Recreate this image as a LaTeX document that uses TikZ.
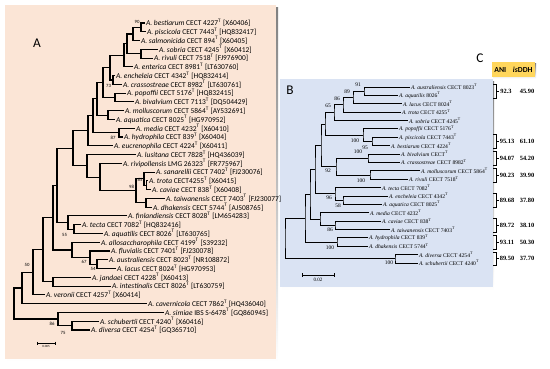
\documentclass[tikz,border=0pt]{standalone}
\usepackage{fontspec}
\setmainfont{Liberation Serif}
\newfontfamily\calib{Carlito}
\usetikzlibrary{positioning,calc}

\definecolor{peach}{RGB}{251,229,214}
\definecolor{paleblue}{RGB}{218,227,243}
\definecolor{gold}{RGB}{255,214,92}
\definecolor{shade}{RGB}{175,175,175}

\newcommand{\tsup}{\textsuperscript{T}}
\newcommand{\treeAfont}{\calib\fontsize{5.6}{6.2}\selectfont}
\newcommand{\treeBfont}{\fontsize{4.2}{4.8}\selectfont}
\newcommand{\bootAfont}{\calib\fontsize{3.6}{4}\selectfont}
\newcommand{\bootBfont}{\fontsize{4.1}{4.6}\selectfont}

\begin{document}
\begin{tikzpicture}[x=0.75pt,y=0.75pt,yscale=-1,xscale=1,
  leafA/.style={anchor=west,inner sep=0.6pt,font=\treeAfont},
  leafB/.style={anchor=west,inner sep=0.6pt,font=\treeBfont},
  bootA/.style={inner sep=0pt,font=\bootAfont},
  bootB/.style={inner sep=0pt,font=\bootBfont},
  brA/.style={line width=0.85pt},
  brB/.style={line width=0.65pt},
  panel/.style={inner sep=0pt,font=\calib\fontsize{10}{12}\selectfont},
  val/.style={inner sep=0pt,font=\bfseries\fontsize{4.8}{5.4}\selectfont},
  hdr/.style={fill=gold,minimum width=32pt,minimum height=11pt,inner sep=0pt,font=\calib\bfseries\fontsize{5.8}{6.4}\selectfont}]
\useasboundingbox (0,0) rectangle (550,368);

%Shape: Rectangle [panel A]
\fill[shade] (7,7) rectangle (278,362);
\fill[peach] (5,5) rectangle (276,359);
%Shape: Rectangle [panel B]
\fill[shade] (282,81) rectangle (494,290);
\fill[paleblue] (280,79) rectangle (493,287);

% Text Node
\node[panel] (labA) at (37,43) {A};
\node[panel] (labB) at (290,90) {B};
\node[panel] (labC) at (480,58) {C};

%%%%%%%%%% tree A
\node[leafA] (aBes) at (145,23.0) {\textit{A. bestiarum} CECT 4227\tsup{} [X60406]};
\node[leafA] (aPis) at (146,31.8) {\textit{A. piscicola} CECT 7443\tsup{} [HQ832417]};
\node[leafA] (aSal) at (140,40.5) {\textit{A. salmonicida} CECT 894\tsup{} [X60405]};
\node[leafA] (aSob) at (158,49.3) {\textit{A. sobria} CECT 4245\tsup{} [X60412]};
\node[leafA] (aRiv) at (153,58.1) {\textit{A. rivuli} CECT 7518\tsup{} [FJ976900]};
\node[leafA] (aEnt) at (133,66.9) {\textit{A. enterica} CECT 8981\tsup{} [LT630760]};
\node[leafA] (aEnc) at (115,75.6) {\textit{A. encheleia} CECT 4342\tsup{} [HQ832414]};
\node[leafA] (aCra) at (122,84.4) {\textit{A. crassostreae} CECT 8982\tsup{} [LT630761]};
\node[leafA] (aPop) at (126,93.2) {\textit{A. popoffii} CECT 5176\tsup{} [HQ832415]};
\node[leafA] (aBiv) at (134,101.9) {\textit{A. bivalvium} CECT 7113\tsup{} [DQ504429]};
\node[leafA] (aMol) at (124,110.7) {\textit{A. molluscorum} CECT 5864\tsup{} [AY532691]};
\node[leafA] (aAqu) at (115,119.5) {\textit{A. aquatica} CECT 8025\tsup{} [HG970952]};
\node[leafA] (aMed) at (135,128.2) {\textit{A. media} CECT 4232\tsup{} [X60410]};
\node[leafA] (aHyd) at (123,137.0) {\textit{A. hydrophila} CECT 839\tsup{} [X60404]};
\node[leafA] (aEuc) at (113,145.8) {\textit{A. eucrenophila} CECT 4224\tsup{} [X60411]};
\node[leafA] (aLus) at (136,154.6) {\textit{A. lusitana} CECT 7828\tsup{} [HQ436039]};
\node[leafA] (aRvp) at (122,163.3) {\textit{A. rivipollensis} LMG 26323\tsup{} [FR775967]};
\node[leafA] (aSan) at (155,172.1) {\textit{A. sanarellii} CECT 7402\tsup{} [FJ230076]};
\node[leafA] (aTro) at (148,180.9) {\textit{A. trota} CECT4255\tsup{} [X60415]};
\node[leafA] (aCav) at (151,189.6) {\textit{A. caviae} CECT 838\tsup{} [X60408]};
\node[leafA] (aTai) at (165,198.4) {\textit{A. taiwanensis} CECT 7403\tsup{} [FJ230077]};
\node[leafA] (aDha) at (152,207.2) {\textit{A. dhakensis} CECT 5744\tsup{} [AJ508765]};
\node[leafA] (aFin) at (127,215.9) {\textit{A. finlandiensis} CECT 8028\tsup{} [LM654283]};
\node[leafA] (aTec) at (81,224.7) {\textit{A. tecta} CECT 7082\tsup{} [HQ832416]};
\node[leafA] (aAqt) at (103,233.5) {\textit{A. aquatilis} CECT 8026\tsup{} [LT630765]};
\node[leafA] (aAll) at (100,242.3) {\textit{A. allosaccharophila} CECT 4199\tsup{} [S39232]};
\node[leafA] (aFlu) at (110,251.0) {\textit{A. fluvialis} CECT 7401\tsup{} [FJ230078]};
\node[leafA] (aAus) at (108,259.8) {\textit{A. australiensis} CECT 8023\tsup{} [NR108872]};
\node[leafA] (aLac) at (116,268.6) {\textit{A. lacus} CECT 8024\tsup{} [HG970953]};
\node[leafA] (aJan) at (91,277.3) {\textit{A. jandaei} CECT 4228\tsup{} [X60413]};
\node[leafA] (aInt) at (111,286.1) {\textit{A. intestinalis} CECT 8026\tsup{} [LT630759]};
\node[leafA] (aVer) at (45,294.9) {\textit{A. veronii} CECT 4257\tsup{} [X60414]};
\node[leafA] (aCve) at (147,303.7) {\textit{A. cavernicola} CECT 7862\tsup{} [HQ436040]};
\node[leafA] (aSim) at (164,312.4) {\textit{A. simiae} IBS S-6478\tsup{} [GQ860945]};
\node[leafA] (aSch) at (99,321.2) {\textit{A. schubertii} CECT 4240\tsup{} [X60416]};
\node[leafA] (aDiv) at (90,330.0) {\textit{A. diversa} CECT 4254\tsup{} [GQ365710]};

\coordinate (n1) at (141,27.4);
\coordinate (n2) at (133,34.0);
\coordinate (n3) at (141,53.7);
\coordinate (n4) at (127,43.8);
\coordinate (n5) at (124,55.4);
\coordinate (n6) at (113,80.0);
\coordinate (n7) at (110,67.7);
\coordinate (n8) at (115,97.6);
\coordinate (n9) at (103,82.6);
\coordinate (n10) at (108,115.1);
\coordinate (n11) at (97,98.9);
\coordinate (n12) at (119,132.6);
\coordinate (n13) at (93,115.7);
\coordinate (n14) at (88,130.8);
\coordinate (m1) at (146.5,185.3);
\coordinate (m2) at (144,178.7);
\coordinate (m3) at (146,202.8);
\coordinate (m4) at (136,190.8);
\coordinate (m5) at (100,177.1);
\coordinate (m6) at (87,165.9);
\coordinate (m7) at (73,148.4);
\coordinate (f1) at (74,229.1);
\coordinate (f2) at (68,222.5);
\coordinate (g1) at (97,264.2);
\coordinate (g2) at (90,257.6);
\coordinate (g3) at (72,250.0);
\coordinate (q1) at (57,185.5);
\coordinate (q2) at (53,217.7);
\coordinate (j1) at (53,281.7);
\coordinate (q3) at (43,249.7);
\coordinate (q4) at (33,272.3);
\coordinate (q5) at (22,288.0);
\coordinate (s1) at (72,325.6);
\coordinate (s2) at (58,319.0);
\coordinate (rA) at (14,303.5);

%Straight Lines
\draw[brA] (aBes.west) -| (n1) |- (aPis.west);
\draw[brA] (n1) -| (n2) |- (aSal.west);
\draw[brA] (aSob.west) -| (n3) |- (aRiv.west);
\draw[brA] (n2) -| (n4) |- (n3);
\draw[brA] (n4) -| (n5) |- (aEnt.west);
\draw[brA] (aEnc.west) -| (n6) |- (aCra.west);
\draw[brA] (n5) -| (n7) |- (n6);
\draw[brA] (aPop.west) -| (n8) |- (aBiv.west);
\draw[brA] (n7) -| (n9) |- (n8);
\draw[brA] (aMol.west) -| (n10) |- (aAqu.west);
\draw[brA] (n9) -| (n11) |- (n10);
\draw[brA] (aMed.west) -| (n12) |- (aHyd.west);
\draw[brA] (n11) -| (n13) |- (n12);
\draw[brA] (n13) -| (n14) |- (aEuc.west);
\draw[brA] (aTro.west) -| (m1) |- (aCav.west);
\draw[brA] (aSan.west) -| (m2) |- (m1);
\draw[brA] (aTai.west) -| (m3) |- (aDha.west);
\draw[brA] (m2) -| (m4) |- (m3);
\draw[brA] (aRvp.west) -| (m5) |- (m4);
\draw[brA] (aLus.west) -| (m6) |- (m5);
\draw[brA] (n14) -| (m7) |- (m6);
\draw[brA] (aTec.west) -| (f1) |- (aAqt.west);
\draw[brA] (aFin.west) -| (f2) |- (f1);
\draw[brA] (m7) -| (q1) |- (f2);
\draw[brA] (aAus.west) -| (g1) |- (aLac.west);
\draw[brA] (aFlu.west) -| (g2) |- (g1);
\draw[brA] (aAll.west) -| (g3) |- (g2);
\draw[brA] (q1) -| (q2) |- (g3);
\draw[brA] (aJan.west) -| (j1) |- (aInt.west);
\draw[brA] (q2) -| (q3) |- (j1);
\draw[brA] (q3) -| (q4) |- (aVer.west);
\draw[brA] (q4) -| (q5) |- (aCve.west);
\draw[brA] (aSch.west) -| (s1) |- (aDiv.west);
\draw[brA] (aSim.west) -| (s2) |- (s1);
\draw[brA] (q5) -| (rA) |- (s2);

% Text Node
\node[bootA] (bs90) at (137,21.5) {90};
\node[bootA] (bs73) at (108.5,85.5) {73};
\node[bootA] (bs87) at (113,137.5) {87};
\node[bootA] (bs65a) at (140,180) {65};
\node[bootA] (bs98) at (131.5,187) {98};
\node[bootA] (bs55) at (64.5,234.5) {55};
\node[bootA] (bs67) at (84,261.5) {67};
\node[bootA] (bs54) at (93,268.5) {54};
\node[bootA] (bs50) at (27,265) {50};
\node[bootA] (bs86a) at (52,323.5) {86};
\node[bootA] (bs75) at (63,332.5) {75};

%Scale bar A
\coordinate (sa1) at (37,343);
\coordinate (sa2) at (55,343);
\draw[line width=0.6pt] (sa1) -- (sa2);
\draw[line width=0.5pt] ($(sa1)+(0,-1.5)$) -- ($(sa1)+(0,1.5)$) ($(sa2)+(0,-1.5)$) -- ($(sa2)+(0,1.5)$);
\node[inner sep=0pt,font=\calib\fontsize{2.4}{2.8}\selectfont,below=1.5pt of $(sa1)!0.5!(sa2)$] (scA) {0.005};

%%%%%%%%%% tree B
\node[leafB] (bAus) at (410,87.0) {\textit{A. australiensis} CECT 8023\tsup};
\node[leafB] (bAqt) at (398,95.4) {\textit{A. aquatilis} 8026\tsup};
\node[leafB] (bLac) at (402,103.8) {\textit{A. lacus} CECT 8024\tsup};
\node[leafB] (bTro) at (401,112.1) {\textit{A. trota} CECT 4255\tsup};
\node[leafB] (bSob) at (408,120.5) {\textit{A. sobria} CECT 4245\tsup};
\node[leafB] (bPop) at (398,128.9) {\textit{A. popoffii} CECT 5176\tsup};
\node[leafB] (bPis) at (398,137.3) {\textit{A. piscicola} CECT 7443\tsup};
\node[leafB] (bBes) at (390,145.7) {\textit{A. bestiarum} CECT 4224\tsup};
\node[leafB] (bBiv) at (400,154.0) {\textit{A. bivalvium} CECT\tsup};
\node[leafB] (bCra) at (400,162.4) {\textit{A. crassostreae} CECT 8982\tsup};
\node[leafB] (bMol) at (420,170.8) {\textit{A. molluscorum} CECT 5864\tsup};
\node[leafB] (bRiv) at (408,179.2) {\textit{A. rivuli} CECT 7518\tsup};
\node[leafB] (bTec) at (381,187.6) {\textit{A. tecta} CECT 7082\tsup};
\node[leafB] (bEnc) at (388,196.0) {\textit{A. encheleia} CECT 4342\tsup};
\node[leafB] (bAqu) at (382,204.3) {\textit{A. aquatica} CECT 8025\tsup};
\node[leafB] (bMed) at (369,212.7) {\textit{A. media} CECT 4232\tsup};
\node[leafB] (bCav) at (381,221.1) {\textit{A. caviae} CECT 838\tsup};
\node[leafB] (bTai) at (390,229.5) {\textit{A. taiwanensis} CECT 7403\tsup};
\node[leafB] (bHyd) at (368,237.9) {\textit{A. hydrophila} CECT 839\tsup};
\node[leafB] (bDha) at (368,246.2) {\textit{A. dhakensis} CECT 5744\tsup};
\node[leafB] (bDiv) at (418,254.6) {\textit{A. diversa} CECT 4254\tsup};
\node[leafB] (bSch) at (418,263.0) {\textit{A. schubertii} CECT 4240\tsup};

\coordinate (b1) at (364,91.2);
\coordinate (b2) at (353,97.5);
\coordinate (b3) at (343,104.8);
\coordinate (b4) at (334,112.7);
\coordinate (b5) at (372,141.5);
\coordinate (b6) at (363,135.2);
\coordinate (b7) at (325,124.0);
\coordinate (b8) at (368,158.2);
\coordinate (b9) at (370,175.0);
\coordinate (b10) at (336,166.6);
\coordinate (b11) at (321,145.3);
\coordinate (b12) at (343,200.2);
\coordinate (b13) at (335,193.9);
\coordinate (b14) at (315,169.6);
\coordinate (b15) at (335,225.3);
\coordinate (b16) at (320,219.0);
\coordinate (b17) at (310,194.3);
\coordinate (b18) at (337,242.0);
\coordinate (b19) at (305,218.2);
\coordinate (b20) at (395,258.8);
\coordinate (rB) at (285,238.5);

%Straight Lines
\draw[brB] (bAus.west) -| (b1) |- (bAqt.west);
\draw[brB] (b1) -| (b2) |- (bLac.west);
\draw[brB] (b2) -| (b3) |- (bTro.west);
\draw[brB] (b3) -| (b4) |- (bSob.west);
\draw[brB] (bPis.west) -| (b5) |- (bBes.west);
\draw[brB] (bPop.west) -| (b6) |- (b5);
\draw[brB] (b4) -| (b7) |- (b6);
\draw[brB] (bBiv.west) -| (b8) |- (bCra.west);
\draw[brB] (bMol.west) -| (b9) |- (bRiv.west);
\draw[brB] (b8) -| (b10) |- (b9);
\draw[brB] (b7) -| (b11) |- (b10);
\draw[brB] (bEnc.west) -| (b12) |- (bAqu.west);
\draw[brB] (bTec.west) -| (b13) |- (b12);
\draw[brB] (b11) -| (b14) |- (b13);
\draw[brB] (bCav.west) -| (b15) |- (bTai.west);
\draw[brB] (bMed.west) -| (b16) |- (b15);
\draw[brB] (b14) -| (b17) |- (b16);
\draw[brB] (bHyd.west) -| (b18) |- (bDha.west);
\draw[brB] (b17) -| (b19) |- (b18);
\draw[brB] (bDiv.west) -| (b20) |- (bSch.west);
\draw[brB] (b19) -| (rB) |- (b20);

% Text Node
\node[bootB] (bv91) at (358,85) {91};
\node[bootB] (bv89) at (347,92) {89};
\node[bootB] (bv86a) at (337,99) {86};
\node[bootB] (bv65) at (328,106) {65};
\node[bootB] (bv100a) at (355,141) {100};
\node[bootB] (bv95) at (365,148) {95};
\node[bootB] (bv100b) at (358,152) {100};
\node[bootB] (bv92) at (328,171) {92};
\node[bootB] (bv100c) at (361,181) {100};
\node[bootB] (bv96) at (329,197.5) {96};
\node[bootB] (bv58) at (338,206) {58};
\node[bootB] (bv86b) at (330,230) {86};
\node[bootB] (bv100d) at (330,248) {100};
\node[bootB] (bv100e) at (389,263) {100};

%Scale bar B
\coordinate (sb1) at (302,275);
\coordinate (sb2) at (334,275);
\draw[line width=0.6pt] (sb1) -- (sb2);
\draw[line width=0.5pt] ($(sb1)+(0,-1.8)$) -- ($(sb1)+(0,1.8)$) ($(sb2)+(0,-1.8)$) -- ($(sb2)+(0,1.8)$);
\node[inner sep=0pt,font=\fontsize{3.8}{4.4}\selectfont,below=2.5pt of $(sb1)!0.5!(sb2)$] (scB) {0.02};

%%%%%%%%%% panel C
\fill[shade] (493,63.5) rectangle (536,78.5);
\node[hdr] (hdr) at (513.5,69.5) {ANI\hspace{5pt}\textit{is}DDH};

%Brackets
\draw[line width=0.6pt] (493,84) -- (496,84) -- (496,98) -- (493,98) (496,91.2) -- (498.5,91.2);
\draw[line width=0.6pt] (493,134.5) -- (496,134.5) -- (496,148.5) -- (493,148.5) (496,141.5) -- (498.5,141.5);
\draw[line width=0.6pt] (493,151.5) -- (496,151.5) -- (496,165) -- (493,165) (496,158.2) -- (498.5,158.2);
\draw[line width=0.6pt] (493,168) -- (496,168) -- (496,182) -- (493,182) (496,175) -- (498.5,175);
\draw[line width=0.6pt] (493,193.5) -- (496,193.5) -- (496,207) -- (493,207) (496,200.2) -- (498.5,200.2);
\draw[line width=0.6pt] (493,218.5) -- (496,218.5) -- (496,232) -- (493,232) (496,225.3) -- (498.5,225.3);
\draw[line width=0.6pt] (493,235) -- (496,235) -- (496,249) -- (493,249) (496,242) -- (498.5,242);
\draw[line width=0.6pt] (493,252) -- (496,252) -- (496,265.5) -- (493,265.5) (496,258.8) -- (498.5,258.8);

% Text Node
\node[val] (ani1) at (506,91.2) {92.3};   \node[val] (ddh1) at (527,91.2) {45.90};
\node[val] (ani2) at (507,141.5) {95.13}; \node[val] (ddh2) at (527,141.5) {61.10};
\node[val] (ani3) at (507,158.2) {94.07}; \node[val] (ddh3) at (527,158.2) {54.20};
\node[val] (ani4) at (507,175) {90.23};   \node[val] (ddh4) at (527,175) {39.90};
\node[val] (ani5) at (507,200.2) {89.68}; \node[val] (ddh5) at (527,200.2) {37.80};
\node[val] (ani6) at (507,225.3) {89.72}; \node[val] (ddh6) at (527,225.3) {38.10};
\node[val] (ani7) at (507,242) {93.11};   \node[val] (ddh7) at (527,242) {50.30};
\node[val] (ani8) at (507,258.8) {89.50}; \node[val] (ddh8) at (527,258.8) {37.70};

\end{tikzpicture}
\end{document}
